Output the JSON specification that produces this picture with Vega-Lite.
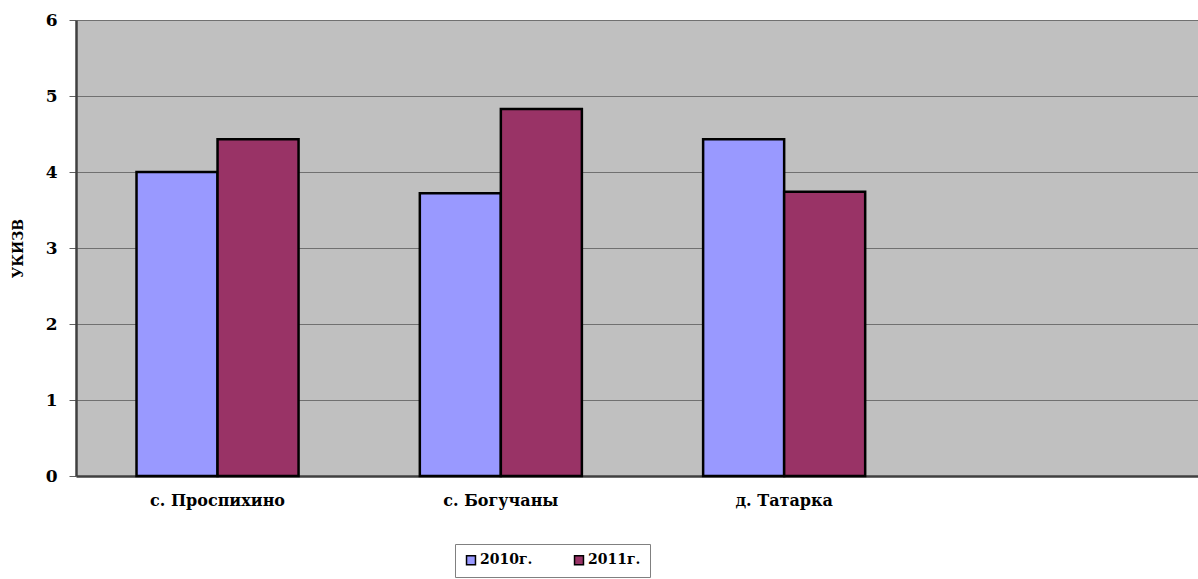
{
  "$schema": "https://vega.github.io/schema/vega-lite/v6.json",
  "width": 1122,
  "height": 456,
  "autosize": {"type": "none"},
  "padding": {"left": 76, "top": 20, "right": 0, "bottom": 103},
  "background": "white",
  "config": {
    "view": {"fill": "#C0C0C0", "stroke": null},
    "font": "DejaVu Serif"
  },
  "data": {
    "values": [
      {"place": "с. Проспихино", "year": "2010г.", "value": 4.0},
      {"place": "с. Проспихино", "year": "2011г.", "value": 4.43},
      {"place": "с. Богучаны", "year": "2010г.", "value": 3.72},
      {"place": "с. Богучаны", "year": "2011г.", "value": 4.83},
      {"place": "д. Татарка", "year": "2010г.", "value": 4.43},
      {"place": "д. Татарка", "year": "2011г.", "value": 3.74}
    ]
  },
  "mark": {"type": "bar", "stroke": "black", "strokeWidth": 2.5},
  "encoding": {
    "x": {
      "field": "place",
      "type": "nominal",
      "sort": null,
      "scale": {"domain": ["с. Проспихино", "с. Богучаны", "д. Татарка", " "], "range": [0, 1133], "paddingInner": 0.428, "paddingOuter": 0.2136},
      "axis": {
        "title": null,
        "labelAngle": 0,
        "ticks": false,
        "labelFont": "DejaVu Serif",
        "labelFontWeight": "bold",
        "labelFontSize": 16,
        "labelColor": "black",
        "labelPadding": 16,
        "domainColor": "#404040",
        "domainWidth": 2.5
      }
    },
    "xOffset": {"field": "year", "type": "nominal", "scale": {"paddingInner": 0}},
    "y": {
      "field": "value",
      "type": "quantitative",
      "scale": {"domain": [0, 6], "nice": false},
      "axis": {
        "title": "УКИЗВ",
        "titleFont": "DejaVu Serif",
        "titleFontWeight": "bold",
        "titleFontSize": 14,
        "titleColor": "black",
        "titlePadding": 20,
        "values": [0, 1, 2, 3, 4, 5, 6],
        "labelFont": "DejaVu Serif",
        "labelFontWeight": "bold",
        "labelFontSize": 17,
        "labelColor": "black",
        "labelPadding": 12,
        "tickColor": "#606060",
        "tickSize": 7,
        "gridColor": "#707070",
        "gridWidth": 1,
        "domainColor": "#404040",
        "domainWidth": 2.5
      }
    },
    "color": {
      "field": "year",
      "type": "nominal",
      "scale": {"domain": ["2010г.", "2011г."], "range": ["#9999FF", "#993366"]},
      "legend": {
        "title": null,
        "orient": "none",
        "legendX": 379,
        "legendY": 524,
        "direction": "horizontal",
        "fillColor": "white",
        "strokeColor": "#808080",
        "padding": 9,
        "symbolType": "square",
        "symbolSize": 80,
        "symbolStrokeColor": "black",
        "symbolStrokeWidth": 1.5,
        "labelFont": "DejaVu Serif",
        "labelFontWeight": "bold",
        "labelFontSize": 14,
        "labelColor": "black",
        "labelOffset": 2,
        "columnPadding": 38
      }
    }
  }
}
